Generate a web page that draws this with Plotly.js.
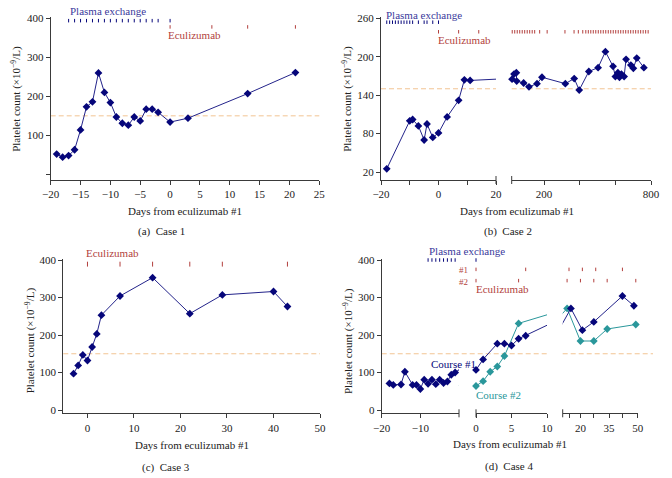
<!DOCTYPE html>
<html>
<head>
<meta charset="utf-8">
<script src="https://cdn.plot.ly/plotly-3.0.1.min.js"></script>
<style>body{margin:0;background:#fff}#chart{width:672px;height:478px}</style>
</head>
<body>
<div id="chart"></div>
<script>
// Case 1
const daysA = [-19, -18, -17, -16, -15, -14, -13, -12, -11, -10, -9, -8, -7, -6, -5, -4, -3, -2, 0, 3, 13, 21];
const pltA = [52, 44, 48, 63, 114, 173, 186, 260, 210, 184, 147, 131, 126, 147, 137, 167, 167, 159, 134, 144, 207, 261];
const plasmaA = [-17, -16, -15, -14, -13, -12, -11, -10, -9, -8, -7, -6, -5, -4, -3, -2, 0];
const ecuA = [0, 7, 13, 21];

// Case 2
const daysB = [-18, -10, -9, -7, -5, -4, -2, 0, 3, 7, 9, 11,
  20, 31, 44, 46, 85, 115, 160, 188, 319, 369, 397, 451, 503, 544, 587, 600, 614, 623, 634, 649, 660, 687, 701, 720, 760];
const pltB = [25, 100, 102, 92, 70, 95, 74, 81, 106, 132, 164, 163,
  165, 173, 175, 162, 159, 153, 158, 168, 158, 166, 148, 177, 183, 208, 185, 169, 175, 168, 173, 169, 196, 187, 182, 198, 183];
const plasmaB = [-18, -17, -16, -15, -14, -13, -12, -11, -10, -9, -7, -5, -4, -2, 0];
const ecuB = [0, 7, 14, 21, 35, 49, 63, 77, 91, 105, 119, 133, 147, 175, 217, 317, 368, 392, 417, 434, 448, 462, 476,
  490, 504, 518, 532, 546, 560, 574, 588, 602, 616, 630, 644, 658, 672, 686, 700, 714, 728, 742, 756, 770, 784];

// Case 3
const daysC = [-3, -2, -1, 0, 1, 2, 3, 7, 14, 22, 29, 40, 43];
const pltC = [97, 119, 147, 132, 168, 203, 253, 304, 353, 257, 307, 316, 276];
const ecuC = [0, 7, 14, 22, 29, 43];

// Case 4
const daysD1 = [-18, -17, -15, -14, -12, -11, -10, -9, -8, -7, -6, -5, -4, -3, -2, -1, 0, 1, 3, 4, 5, 6, 7, 15, 21, 27, 42, 48];
const pltD1 = [71, 67, 68, 102, 67, 67, 56, 81, 70, 81, 69, 81, 72, 76, 94, 100, 107, 135, 177, 177, 172, 190, 198, 271, 213, 235, 304, 278];
const daysD2 = [0, 1, 2, 3, 4, 6, 13, 20, 27, 34, 49];
const pltD2 = [64, 77, 102, 116, 144, 231, 271, 184, 184, 216, 228];
const plasmaD = [-8, -7, -6, -5, -4, -3, -2, -1, 0];
const ecuD1 = [0, 7, 14, 21, 28, 42];
const ecuD2 = [0, 6, 13, 20, 27, 34, 49];

const normal = 150;

const W = 672, H = 478;
const px = x => x / W;
const py = y => 1 - y / H;

const navy = '#06067a';
const navyLine = '#23238a';
const teal = '#2a979b';
const red = '#b23f3d';
const blue = '#3a3a9c';
const dashC = '#f2c493';
const axisC = '#3a3a3a';
const fam = 'Liberation Serif, DejaVu Serif, Times New Roman, serif';
const font = {family: fam, size: 11, color: '#222'};

function series(days, vals, xa, ya, range, color, lineColor) {
  const mx = [], my = [];
  days.forEach((d, i) => {
    if (d >= range[0] && d < range[1]) { mx.push(d); my.push(vals[i]); }
  });
  return [
    {x: days, y: vals, xaxis: xa, yaxis: ya, mode: 'lines', line: {color: lineColor, width: 1}, hoverinfo: 'skip'},
    {x: mx, y: my, xaxis: xa, yaxis: ya, mode: 'markers', cliponaxis: false,
      marker: {symbol: 'diamond', size: 6, color: color}}
  ];
}

function events(days, level, xa, ya, range, color, size) {
  const xs = days.filter(d => d >= range[0] && d < range[1]);
  return {x: xs, y: xs.map(() => level), xaxis: xa, yaxis: ya, mode: 'markers', cliponaxis: false,
    marker: {symbol: 'line-ns-open', size: size, color: color, line: {color: color, width: 1}}};
}

const rA = [-20, 25], rB1 = [-20, 20], rB2 = [18, 800], rC = [-5.2, 50];
const rD1 = [-20, 0], rD2 = [0, 10], rD3 = [10.7, 50];

let data = [];
data = data.concat(series(daysA, pltA, 'x', 'y', rA, navy, navyLine));
data.push(events(plasmaA, 394, 'x', 'y', rA, navy, 2.5));
data.push(events(ecuA, 378, 'x', 'y', rA, red, 2.5));

data = data.concat(series(daysB, pltB, 'x2', 'y2', rB1, navy, navyLine));
data = data.concat(series(daysB, pltB, 'x3', 'y2', rB2, navy, navyLine));
data.push(events(plasmaB, 254, 'x2', 'y2', rB1, navy, 2.5));
data.push(events(ecuB, 239, 'x2', 'y2', rB1, red, 2.5));
data.push(events(ecuB, 239, 'x3', 'y2', rB2, red, 2.5));

data = data.concat(series(daysC, pltC, 'x4', 'y3', rC, navy, navyLine));
data.push(events(ecuC, 389, 'x4', 'y3', rC, red, 3.5));

[['x5', rD1], ['x6', rD2], ['x7', rD3]].forEach(([xa, r]) => {
  data = data.concat(series(daysD2, pltD2, xa, 'y4', r, teal, teal));
  data = data.concat(series(daysD1, pltD1, xa, 'y4', r, navy, navyLine));
  data.push(events(plasmaD, 400, xa, 'y4', r, navy, 2.5));
  data.push(events(ecuD1, 375, xa, 'y4', r, red, 2.5));
  data.push(events(ecuD2, 345, xa, 'y4', r, red, 2.5));
});

const axBase = {showline: true, linecolor: axisC, linewidth: 1, ticks: 'outside', ticklen: 4,
  tickcolor: axisC, tickwidth: 1, showgrid: false, zeroline: false, tickfont: font, fixedrange: true};
function minor(vals) {
  return {tickmode: 'array', tickvals: vals, ticks: 'outside', ticklen: 4, tickcolor: axisC, tickwidth: 1, showgrid: false};
}

const yTicks400 = [0, 100, 200, 300, 400];

const layout = {
  width: W, height: H,
  margin: {l: 0, r: 0, t: 0, b: 0},
  paper_bgcolor: '#fff', plot_bgcolor: '#fff',
  showlegend: false,
  font: font,
  xaxis: {...axBase, anchor: 'y', domain: [px(50.7), px(319.3)], range: rA, tickvals: [-20, -15, -10, -5, 0, 5, 10, 15, 20, 25]},
  yaxis: {...axBase, anchor: 'x', domain: [py(180), py(17)], range: [-14.5, 403.4], tickvals: [100, 200, 300, 400],
    minor: minor([0])},
  xaxis2: {...axBase, anchor: 'y2', domain: [px(381), px(496)], range: rB1, tickvals: [-20, 0, 20],
    minor: minor([-10, 10])},
  xaxis3: {...axBase, anchor: 'y2', domain: [px(511.7), px(651)], range: rB2, tickvals: [200, 800],
    minor: minor([400, 600])},
  yaxis2: {...axBase, anchor: 'x2', domain: [py(180), py(17)], range: [7.5, 262.1], tickvals: [20, 80, 140, 200, 260]},
  xaxis4: {...axBase, anchor: 'y3', domain: [px(63.3), px(320)], range: rC, tickvals: [0, 10, 20, 30, 40, 50]},
  yaxis3: {...axBase, anchor: 'x4', domain: [py(413.3), py(259.3)], range: [-8.8, 401.9], tickvals: yTicks400},
  xaxis5: {...axBase, anchor: 'y4', domain: [px(381.7), px(459)], range: rD1, tickvals: [-20, -10]},
  xaxis6: {...axBase, anchor: 'y4', domain: [px(476), px(547)], range: rD2, tickvals: [0, 5, 10]},
  xaxis7: {...axBase, anchor: 'y4', domain: [px(562.7), px(637.7)], range: rD3, tickvals: [20, 35, 50],
    minor: minor([14, 27, 42])},
  yaxis4: {...axBase, anchor: 'x5', domain: [py(413.3), py(259.3)], range: [-8.8, 401.9], tickvals: yTicks400}
};

const dash = {color: dashC, width: 1, dash: '5px,3px'};
function brk(xa, side, axisY) {
  return {type: 'line', xref: xa + ' domain', yref: 'paper', x0: side, x1: side,
    y0: py(axisY + 4), y1: py(axisY - 4), line: {color: axisC, width: 1}};
}
layout.shapes = [
  {type: 'line', xref: 'x domain', yref: 'y', x0: 0, x1: 1, y0: normal, y1: normal, line: dash, layer: 'below'},
  {type: 'line', xref: 'x2 domain', yref: 'y2', x0: 0, x1: 1, y0: normal, y1: normal, line: dash, layer: 'below'},
  {type: 'line', xref: 'x3 domain', yref: 'y2', x0: 0, x1: 1, y0: normal, y1: normal, line: dash, layer: 'below'},
  {type: 'line', xref: 'x4 domain', yref: 'y3', x0: 0, x1: 1, y0: normal, y1: normal, line: dash, layer: 'below'},
  {type: 'line', xref: 'paper', yref: 'y4', x0: px(381.7), x1: px(547), y0: normal, y1: normal, line: dash, layer: 'below'},
  {type: 'line', xref: 'paper', yref: 'y4', x0: px(562.7), x1: px(653), y0: normal, y1: normal, line: dash, layer: 'below'},
  brk('x2', 1, 180), brk('x3', 0, 180),
  brk('x5', 1, 413.3), brk('x6', 0, 413.3), brk('x7', 0, 413.3)
];

function label(text, x, y, color, anchor, size) {
  return {text: text, xref: 'paper', yref: 'paper', x: px(x), y: py(y), xanchor: anchor || 'left', yanchor: 'middle',
    align: anchor === 'right' ? 'right' : 'left',
    showarrow: false, borderpad: 0, font: {family: fam, size: size || 11, color: color}};
}
function ytitle(x, y) {
  return {text: 'Platelet count (\u00d710<sup>\u22129</sup>/L)', xref: 'paper', yref: 'paper', x: px(x), y: py(y),
    xanchor: 'center', yanchor: 'middle', textangle: -90, showarrow: false, borderpad: 0,
    font: {family: fam, size: 11, color: '#222'}};
}
const xt = 'Days from eculizumab #1';
layout.annotations = [
  label('Plasma exchange', 69, 11, blue),
  label('Eculizumab', 167, 35, red),
  label(xt, 185, 210.7, '#222', 'center'),
  label('(a)\u00a0\u00a0Case 1', 161, 232, '#222', 'center'),
  ytitle(15.8, 99),

  label('Plasma exchange', 385, 14.5, blue),
  label('Eculizumab', 437, 40, red),
  label(xt, 517, 210.7, '#222', 'center'),
  label('(b)\u00a0\u00a0Case 2', 507.7, 232, '#222', 'center'),
  ytitle(346.8, 99),

  label('Eculizumab', 85, 253.3, red),
  label(xt, 191.7, 445, '#222', 'center'),
  label('(c)\u00a0\u00a0Case 3', 166, 467.7, '#222', 'center'),
  ytitle(30.5, 340.8),

  label('Plasma exchange', 428, 251.2, blue),
  label('#1<br>#2', 469, 275.5, red, 'right', 9),
  label('Eculizumab', 475, 289, red),
  label('Course #1', 430, 364.3, navy),
  label('Course #2', 475, 395, teal),
  label(xt, 509.7, 444, '#222', 'center'),
  label('(d)\u00a0\u00a0Case 4', 508.5, 466.5, '#222', 'center'),
  ytitle(348.3, 340.8)
];

Plotly.newPlot('chart', data, layout, {staticPlot: true, displayModeBar: false});
</script>
</body>
</html>
